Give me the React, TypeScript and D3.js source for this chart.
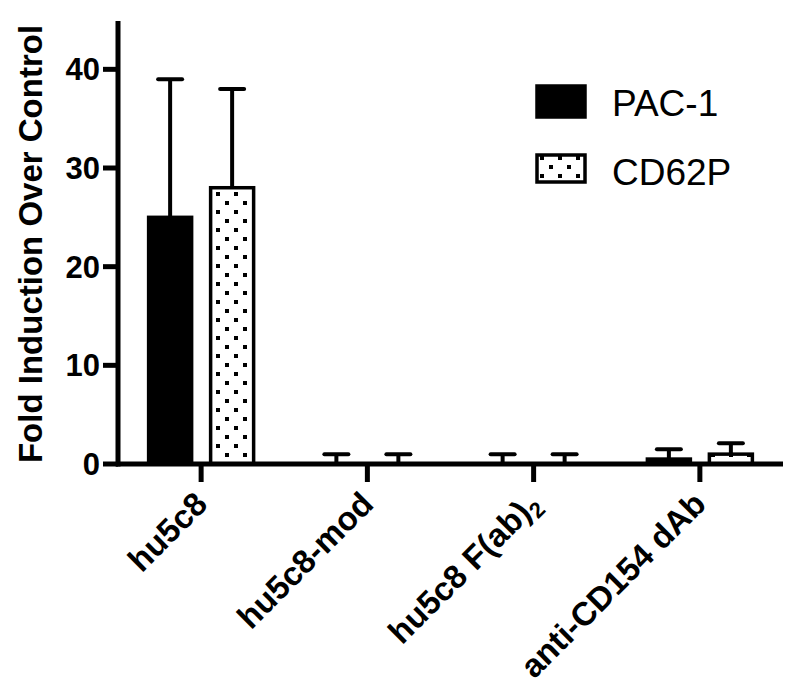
import React from "react";
import * as d3 from "d3";

const categories = ["hu5c8", "hu5c8-mod", "hu5c8 F(ab)2", "anti-CD154 dAb"];
const seriesNames = ["PAC-1", "CD62P"];
const pac1Values = [25, 0, 0, 0.5];
const pac1Errors = [14, 1, 1, 1];
const cd62pValues = [28, 0, 0, 1];
const cd62pErrors = [10, 1, 1, 1.1];
const yTicks = [0, 10, 20, 30, 40];

const W = 800;
const H = 697;
const FONT = "'Liberation Sans', Arial, Helvetica, sans-serif";

export default function App() {
  const x = d3.scaleBand<string>().domain(categories).range([118, 783]).padding(0);
  const inner = d3.scaleBand<string>().domain(seriesNames).range([-54, 54]).paddingInner(0.258).paddingOuter(0);
  const y = d3.scaleLinear().domain([0, 45]).range([464, 20]);

  const series = [
    { name: seriesNames[0], values: pac1Values, errors: pac1Errors, fill: "#000" },
    { name: seriesNames[1], values: cd62pValues, errors: cd62pErrors, fill: "url(#dots)" },
  ];

  const bw = inner.bandwidth();
  const capW = 24;
  const legendBox = [
    { y: 86, h: 31, ty: 116 },
    { y: 155, h: 27, ty: 185 },
  ];

  return (
    <svg width={W} height={H} style={{ position: "absolute", left: 0, top: 0, background: "#fff" }}>
      <defs>
        <pattern id="dots" patternUnits="userSpaceOnUse" width={18} height={18} x={2} y={0}>
          <rect width={18} height={18} fill="#fff" />
          <rect x={7} y={3} width={4} height={4} fill="#000" />
          <rect x={16} y={12} width={4} height={4} fill="#000" />
          <rect x={-2} y={12} width={4} height={4} fill="#000" />
        </pattern>
      </defs>
      <rect width={W} height={H} fill="#fff" />

      {/* bars */}
      {series.map((s) =>
        categories.map((c, i) => {
          const cx = (x(c) as number) + x.bandwidth() / 2 + (inner(s.name) as number);
          const v = s.values[i];
          const top = y(v);
          const hgt = y(0) - top;
          const errTop = y(v + s.errors[i]);
          const mid = cx + bw / 2;
          return (
            <g key={s.name + c}>
              <line x1={mid} x2={mid} y1={top} y2={errTop} stroke="#000" strokeWidth={4} />
              <line x1={mid - capW / 2} x2={mid + capW / 2} y1={errTop} y2={errTop} stroke="#000" strokeWidth={4} strokeLinecap="round" />
              {hgt > 0 && (
                <rect x={cx + 1.5} y={top} width={bw - 3} height={hgt} fill={s.fill} stroke="#000" strokeWidth={3.5} />
              )}
            </g>
          );
        })
      )}

      {/* y axis */}
      <line x1={118} x2={118} y1={y(45) + 1} y2={y(0) + 2.5} stroke="#000" strokeWidth={5} />
      {yTicks.map((t) => (
        <g key={t}>
          <line x1={103} x2={118} y1={y(t)} y2={y(t)} stroke="#000" strokeWidth={5} />
          <text x={100} y={y(t) + 11} textAnchor="end" fontFamily={FONT} fontWeight="bold" fontSize={31} fill="#000">
            {t}
          </text>
        </g>
      ))}
      <text
        transform={`translate(42, ${(y(0) + y(45)) / 2 + 2}) rotate(-90)`}
        textAnchor="middle"
        fontFamily={FONT}
        fontWeight="bold"
        fontSize={33}
        fill="#000"
      >
        Fold Induction Over Control
      </text>

      {/* x axis */}
      <line x1={116} x2={783} y1={y(0)} y2={y(0)} stroke="#000" strokeWidth={5} />
      {categories.map((c) => {
        const cx = (x(c) as number) + x.bandwidth() / 2;
        return (
          <g key={c}>
            <line x1={cx} x2={cx} y1={y(0)} y2={y(0) + 18} stroke="#000" strokeWidth={5} />
            <text
              transform={`translate(${cx + 8}, ${y(0) + 42}) rotate(-45)`}
              textAnchor="end"
              fontFamily={FONT}
              fontWeight="bold"
              fontSize={33}
              fill="#000"
            >
              {c === "hu5c8 F(ab)2" ? (
                <>
                  hu5c8 F(ab)<tspan fontSize={22} dy={7}>2</tspan>
                </>
              ) : (
                c
              )}
            </text>
          </g>
        );
      })}

      {/* legend */}
      {series.map((s, i) => (
        <g key={s.name}>
          <rect x={537} y={legendBox[i].y} width={48} height={legendBox[i].h} fill={s.fill} stroke="#000" strokeWidth={3.5} />
          <text x={612} y={legendBox[i].ty} fontFamily={FONT} fontSize={37} fill="#000">
            {s.name}
          </text>
        </g>
      ))}
    </svg>
  );
}
